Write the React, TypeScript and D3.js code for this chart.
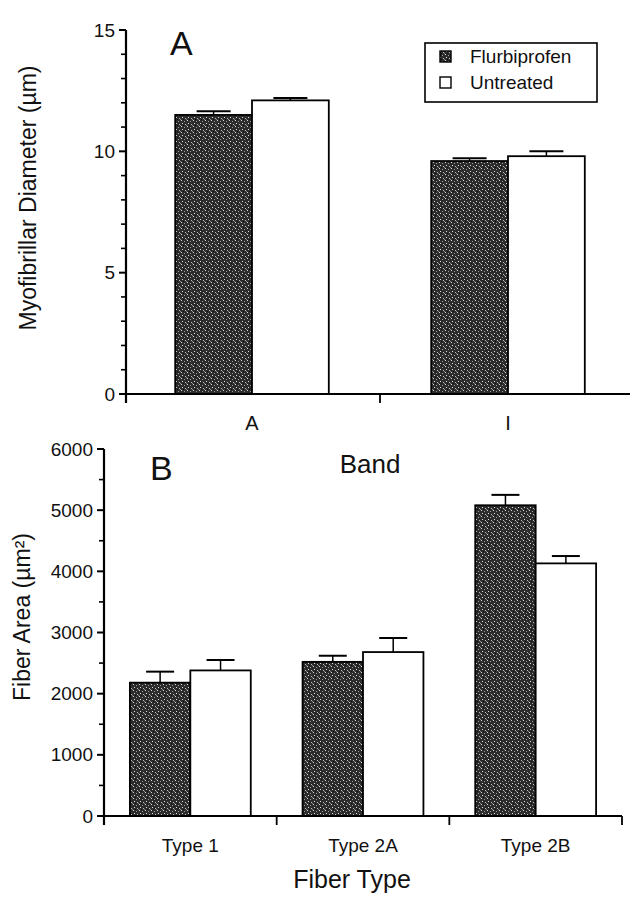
import React from 'react';
import * as d3 from 'd3';

// ---- Data ----
const seriesNames = ['Flurbiprofen', 'Untreated'];

const bandsA = ['A', 'I'];
const flurbA = [11.5, 9.6];
const flurbAErr = [0.15, 0.12];
const untreatedA = [12.1, 9.8];
const untreatedAErr = [0.1, 0.2];
const ticksA = [0, 5, 10, 15];
const minorTicksA = [1, 2, 3, 4, 6, 7, 8, 9, 11, 12, 13, 14];

const fiberTypes = ['Type 1', 'Type 2A', 'Type 2B'];
const flurbB = [2180, 2520, 5080];
const flurbBErr = [180, 100, 170];
const untreatedB = [2380, 2680, 4130];
const untreatedBErr = [170, 230, 120];
const ticksB = [0, 1000, 2000, 3000, 4000, 5000, 6000];
const minorTicksB = [500, 1500, 2500, 3500, 4500, 5500];

const FONT = '"Liberation Sans", Arial, Helvetica, sans-serif';

type PanelProps = {
  cats: string[];
  s1: number[];
  e1: number[];
  s2: number[];
  e2: number[];
  ticks: number[];
  minor: number[];
  x: d3.ScaleBand<string>;
  y: d3.ScaleLinear<number, number>;
  axisX: number;
  xEnd: number;
  capW: number;
  catLabelDy: number;
  catFont: number;
  tickFont: number;
};

function Panel(p: PanelProps) {
  const { x, y, axisX } = p;
  const y0 = y(0);
  const yTop = y(p.ticks[p.ticks.length - 1]);
  const bw = x.bandwidth() / 2;
  const step = x.step();
  const start = (x(p.cats[0]) as number) - x.paddingOuter() * step;
  const boundaries = p.cats.map((_, i) => start + (i + 1) * step).filter((b) => b <= p.xEnd + 1);
  const series = [
    { vals: p.s1, errs: p.e1, fill: 'url(#stipple)' },
    { vals: p.s2, errs: p.e2, fill: '#ffffff' },
  ];
  return (
    <g>
      {series.map((s, j) =>
        p.cats.map((c, i) => {
          const bx = (x(c) as number) + j * bw;
          const top = y(s.vals[i]);
          const cap = y(s.vals[i] + s.errs[i]);
          const cx = bx + bw / 2;
          return (
            <g key={`${j}-${i}`}>
              <line x1={cx} x2={cx} y1={top} y2={cap} stroke="#000" strokeWidth={1.5} />
              <line x1={cx - p.capW / 2} x2={cx + p.capW / 2} y1={cap} y2={cap} stroke="#000" strokeWidth={2} />
              <rect x={bx} y={top} width={bw} height={y0 - top} fill={s.fill} stroke="#000" strokeWidth={1.8} />
            </g>
          );
        })
      )}
      {/* y axis */}
      <line x1={axisX} x2={axisX} y1={yTop} y2={y0 + 9} stroke="#000" strokeWidth={2.2} />
      {p.ticks.map((t) => (
        <g key={`t${t}`}>
          <line x1={axisX - 7} x2={axisX} y1={y(t)} y2={y(t)} stroke="#000" strokeWidth={2} />
          <text x={axisX - 11} y={y(t)} dy="0.35em" textAnchor="end" fontSize={p.tickFont} fontFamily={FONT} fill="#111">
            {t}
          </text>
        </g>
      ))}
      {p.minor.map((t) => (
        <line key={`m${t}`} x1={axisX - 5} x2={axisX} y1={y(t)} y2={y(t)} stroke="#000" strokeWidth={1.6} />
      ))}
      {/* x axis */}
      <line x1={axisX} x2={p.xEnd} y1={y0} y2={y0} stroke="#000" strokeWidth={2.2} />
      {boundaries.map((b, i) => (
        <line key={`b${i}`} x1={b} x2={b} y1={y0} y2={y0 + 9} stroke="#000" strokeWidth={1.8} />
      ))}
      {p.cats.map((c) => (
        <text
          key={`c${c}`}
          x={(x(c) as number) + x.bandwidth() / 2}
          y={y0 + p.catLabelDy}
          textAnchor="middle"
          fontSize={p.catFont}
          fontFamily={FONT}
          fill="#111"
        >
          {c}
        </text>
      ))}
    </g>
  );
}

export default function App() {
  const W = 630;
  const H = 897;

  const xA = d3.scaleBand<string>().domain(bandsA).range([124, 636]).paddingInner(0.4).paddingOuter(0.2);
  const yA = d3.scaleLinear().domain([0, 15]).range([394, 30]);

  const xB = d3.scaleBand<string>().domain(fiberTypes).range([104, 622]).paddingInner(0.3).paddingOuter(0.15);
  const yB = d3.scaleLinear().domain([0, 6000]).range([816, 449]);

  return (
    <svg
      width={W}
      height={H}
      viewBox={`0 0 ${W} ${H}`}
      style={{ position: 'absolute', left: 0, top: 0, background: '#fff' }}
    >
      <defs>
        <pattern id="stipple" width="6" height="6" patternUnits="userSpaceOnUse">
          <rect width="6" height="6" fill="#2c2c2c" />
          <rect x="1" y="0" width="1" height="1" fill="#d8d8d8" />
          <rect x="4" y="1" width="1" height="1" fill="#9a9a9a" />
          <rect x="2" y="3" width="1" height="1" fill="#e0e0e0" />
          <rect x="5" y="4" width="1" height="1" fill="#bdbdbd" />
          <rect x="0" y="5" width="1" height="1" fill="#8a8a8a" />
          <rect x="3" y="5" width="1" height="1" fill="#111" />
        </pattern>
      </defs>
      <rect width={W} height={H} fill="#fff" />

      {/* Panel A */}
      <Panel
        cats={bandsA}
        s1={flurbA}
        e1={flurbAErr}
        s2={untreatedA}
        e2={untreatedAErr}
        ticks={ticksA}
        minor={minorTicksA}
        x={xA}
        y={yA}
        axisX={126}
        xEnd={630}
        capW={34}
        catLabelDy={36}
        catFont={20}
        tickFont={19}
      />
      <text x={170} y={55} fontSize={34} fontFamily={FONT} fill="#111">A</text>
      <text
        transform={`translate(36, 198) rotate(-90)`}
        textAnchor="middle"
        fontSize={23}
        fontFamily={FONT}
        fill="#111"
      >
        Myofibrillar Diameter (µm)
      </text>
      <text x={370} y={473} textAnchor="middle" fontSize={26} fontFamily={FONT} fill="#111">Band</text>

      {/* Legend */}
      <rect x={425} y={43} width={172} height={59} fill="#fff" stroke="#000" strokeWidth={1.6} />
      <rect x={440} y={51} width={11} height={11} fill="url(#stipple)" stroke="#000" strokeWidth={1.4} />
      <rect x={440} y={77} width={11} height={11} fill="#fff" stroke="#000" strokeWidth={1.4} />
      <text x={470} y={63} fontSize={19} fontFamily={FONT} fill="#111">{seriesNames[0]}</text>
      <text x={470} y={89} fontSize={19} fontFamily={FONT} fill="#111">{seriesNames[1]}</text>

      {/* Panel B */}
      <Panel
        cats={fiberTypes}
        s1={flurbB}
        e1={flurbBErr}
        s2={untreatedB}
        e2={untreatedBErr}
        ticks={ticksB}
        minor={minorTicksB}
        x={xB}
        y={yB}
        axisX={104}
        xEnd={622}
        capW={28}
        catLabelDy={36}
        catFont={19}
        tickFont={19}
      />
      <text x={150} y={480} fontSize={34} fontFamily={FONT} fill="#111">B</text>
      <text
        transform={`translate(30, 617) rotate(-90)`}
        textAnchor="middle"
        fontSize={23}
        fontFamily={FONT}
        fill="#111"
      >
        Fiber Area (µm²)
      </text>
      <text x={352} y={888} textAnchor="middle" fontSize={25} fontFamily={FONT} fill="#111">Fiber Type</text>
    </svg>
  );
}
